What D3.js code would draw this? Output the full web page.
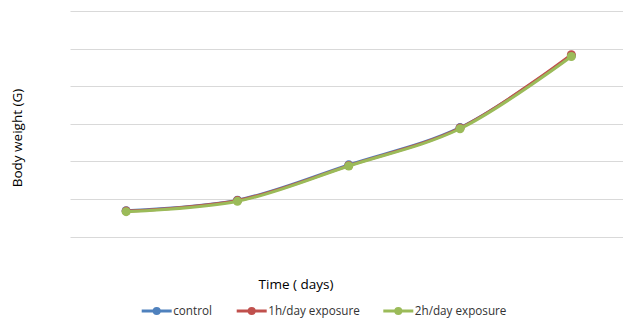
<!DOCTYPE html>
<html><head><meta charset="utf-8">
<script src="https://cdn.jsdelivr.net/npm/d3@7"></script>
<style>
html,body{margin:0;padding:0;background:#fff;}
svg{display:block;font-family:"Open Sans",sans-serif;}
</style></head>
<body><svg id="c" width="623" height="318"></svg>
<script>
const categories = ["1","2","3","4","5"];
const seriesNames = ["control","1h/day exposure","2h/day exposure"];
const control = [6.9, 9.7, 19.1, 29.0, 48.1];
const exposure1h = [6.8, 9.6, 18.9, 28.9, 48.4];
const exposure2h = [6.65, 9.4, 18.8, 28.7, 47.9];
const yTicks = [0,10,20,30,40,50,60];
const colors = ["#4F81BD","#C0504D","#9BBB59"];

(function(){
const svg = d3.select("#c");
const pl = 70.5, pr = 627, pt = 11, pb = 236.7;
const x = d3.scalePoint().domain(categories).range([pl, pr]).padding(0.5);
const y = d3.scaleLinear().domain([0,60]).range([pb, pt]);

svg.append("g").selectAll("line").data(yTicks).join("line")
  .attr("x1", pl).attr("x2", 623)
  .attr("y1", d=>Math.round(y(d))+0.5).attr("y2", d=>Math.round(y(d))+0.5)
  .attr("stroke","#d9d9d9").attr("stroke-width",1);

const data = [control, exposure1h, exposure2h];
const line = d3.line().x((d,i)=>x(categories[i])).y(d=>y(d)).curve(d3.curveCatmullRom.alpha(0.5));
data.forEach((s,k)=>{
  const g = svg.append("g");
  g.append("path").attr("d", line(s)).attr("fill","none").attr("stroke",colors[k]).attr("stroke-width",3).attr("stroke-linecap","round");
  g.selectAll("circle").data(s).join("circle")
    .attr("cx",(d,i)=>x(categories[i])).attr("cy",d=>y(d)).attr("r",4.5).attr("fill",colors[k]);
});

svg.append("text").attr("transform","translate(21.5,138) rotate(-90)").attr("text-anchor","middle")
  .attr("font-size",13.5).attr("fill","#000").text("Body weight (G)");
svg.append("text").attr("x",296).attr("y",289).attr("text-anchor","middle")
  .attr("font-size",13.5).attr("fill","#000").text("Time ( days)");

const legX = [141.7, 236.7, 383.3];
seriesNames.forEach((n,k)=>{
  const g = svg.append("g").attr("transform",`translate(${legX[k]},311)`);
  g.append("line").attr("x1",0).attr("x2",30).attr("y1",0).attr("y2",0).attr("stroke",colors[k]).attr("stroke-width",3);
  g.append("circle").attr("cx",15).attr("cy",0).attr("r",4).attr("fill",colors[k]);
  g.append("text").attr("x",31.5).attr("y",4.2).attr("font-size",11.7).attr("fill","#333").text(n);
});
})();
</script></body></html>
